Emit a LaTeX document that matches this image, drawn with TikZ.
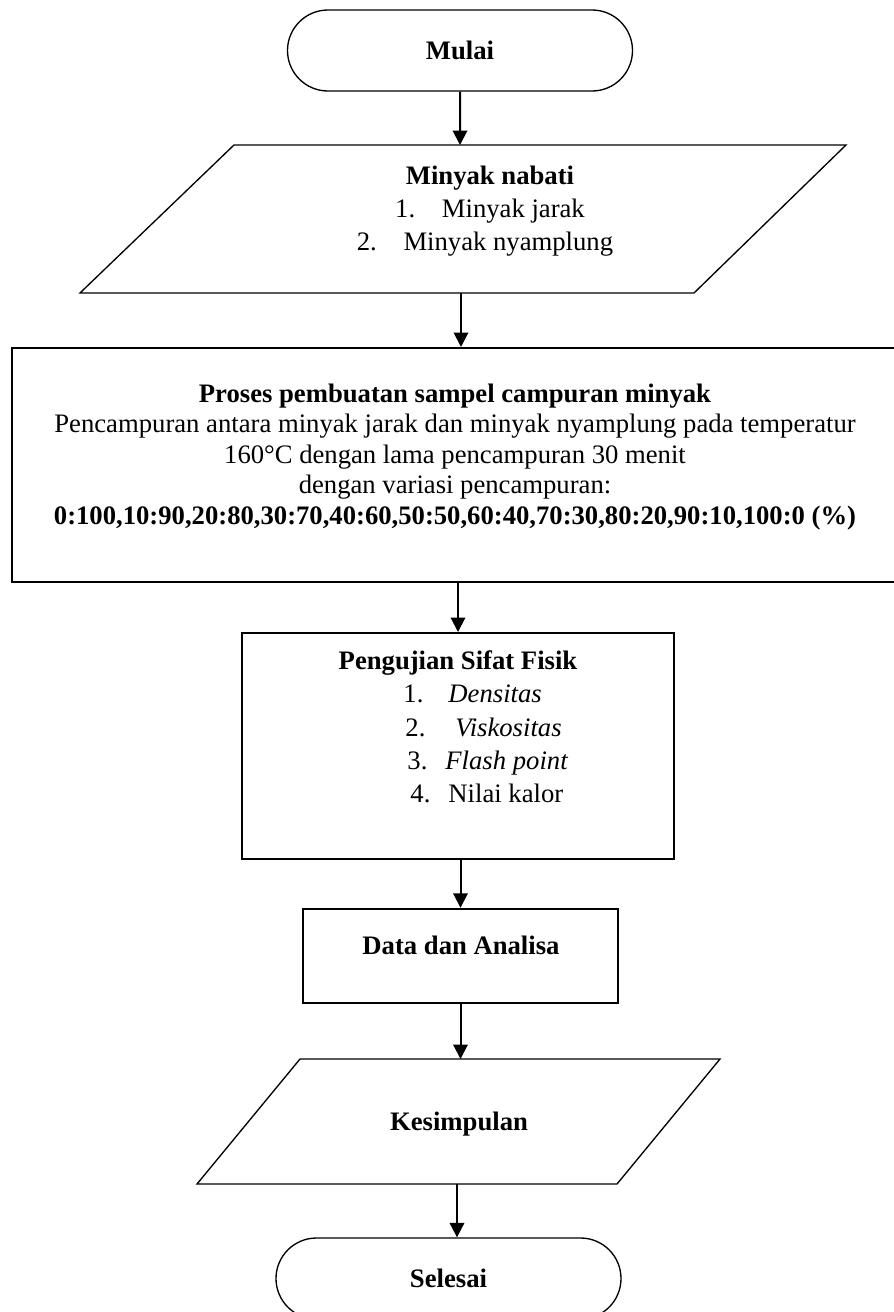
\documentclass[tikz,12pt,border=0pt]{standalone}
\usepackage{fontspec}
\setmainfont{Liberation Serif}
\usetikzlibrary{arrows.meta}
\usetikzlibrary{shapes.misc}

\begin{document}
\begin{tikzpicture}[x=0.45pt,y=-0.45pt,
    terminal/.style={draw,line width=0.6pt,rounded rectangle,minimum width=155.25pt,minimum height=36.45pt,inner sep=0pt,font=\bfseries},
    procbox/.style={draw,line width=0.9pt,rectangle,inner sep=0pt},
    txt/.style={inner sep=0pt,anchor=base},
    item/.style={inner sep=0pt,anchor=base west},
    arr/.style={line width=0.9pt,-{Triangle[length=6.5pt,width=6.5pt]}}]
    \useasboundingbox (0,0) rectangle (893,1312);
    \node[terminal] (mulai) at (460,50.5) {Mulai};
    \coordinate (mnTL) at (234,145);
    \coordinate (mnTR) at (846,145);
    \coordinate (mnBR) at (694,293);
    \coordinate (mnBL) at (80,293);
    \coordinate (mnB) at (461,293);
    \draw[line width=0.6pt] (mnTL) -- (mnTR) -- (mnBR) -- (mnBL) -- cycle;
    \node[txt,font=\bfseries] (minyak) at (490,184) {Minyak nabati};
    \foreach \n/\t/\x/\y in {1/Minyak jarak/490/217,2/Minyak nyamplung/485/250} {
        \node[txt] (minyak\n) at (\x,\y) {\n.\hspace{1em}\t};
    }
    \node[procbox,minimum width=397.8pt,minimum height=105.3pt] (proses) at (454,465) {};
    \node[inner sep=0pt,align=center,font={\fontsize{12}{13.7}\selectfont}] (prosestxt) at (455,457) {\textbf{Proses pembuatan sampel campuran minyak}\\
        Pencampuran antara minyak jarak dan minyak nyamplung pada temperatur\\
        160°C dengan lama pencampuran 30 menit\\
        dengan variasi pencampuran:\\
        \textbf{0:100,10:90,20:80,30:70,40:60,50:50,60:40,70:30,80:20,90:10,100:0 (\%)}};
    \node[procbox,minimum width=194.4pt,minimum height=101.7pt] (uji) at (458,746) {};
    \node[txt,font=\bfseries] (ujititle) at (458,669) {Pengujian Sifat Fisik};
    \foreach \n/\nx/\tx/\y/\t in {1/403/448/702/\textit{Densitas},2/405/455/736/\textit{Viskositas},3/407/445/769/\textit{Flash point},4/410/448/802/Nilai kalor} {
        \node[item] (ujinum\n) at (\nx,\y) {\n.};
        \node[item] (uji\n) at (\tx,\y) {\t};
    }
    \node[procbox,line width=1.1pt,minimum width=141.75pt,minimum height=42.3pt] (data) at (460.5,956) {};
    \node[txt,font=\bfseries] (datatxt) at (461,954) {Data dan Analisa};
    \coordinate (ksTL) at (300,1059);
    \coordinate (ksTR) at (720,1059);
    \coordinate (ksBR) at (617,1184);
    \coordinate (ksBL) at (197,1184);
    \coordinate (ksB) at (457,1184);
    \draw[line width=0.6pt] (ksTL) -- (ksTR) -- (ksBR) -- (ksBL) -- cycle;
    \node[txt,font=\bfseries] (kesimpulan) at (459,1130) {Kesimpulan};
    \node[terminal] (selesai) at (448.5,1278.5) {Selesai};
    \draw[arr] (mulai) -- (mulai |- mnTL);
    \draw[arr] (mnB) -- (mnB |- proses.north);
    \draw[arr] (proses.south -| uji) -- (uji);
    \draw[arr] (uji.south -| data) -- (data);
    \draw[arr] (data) -- (data |- ksTL);
    \draw[arr] (ksB) -- (ksB |- selesai.north);
\end{tikzpicture}
\end{document}
